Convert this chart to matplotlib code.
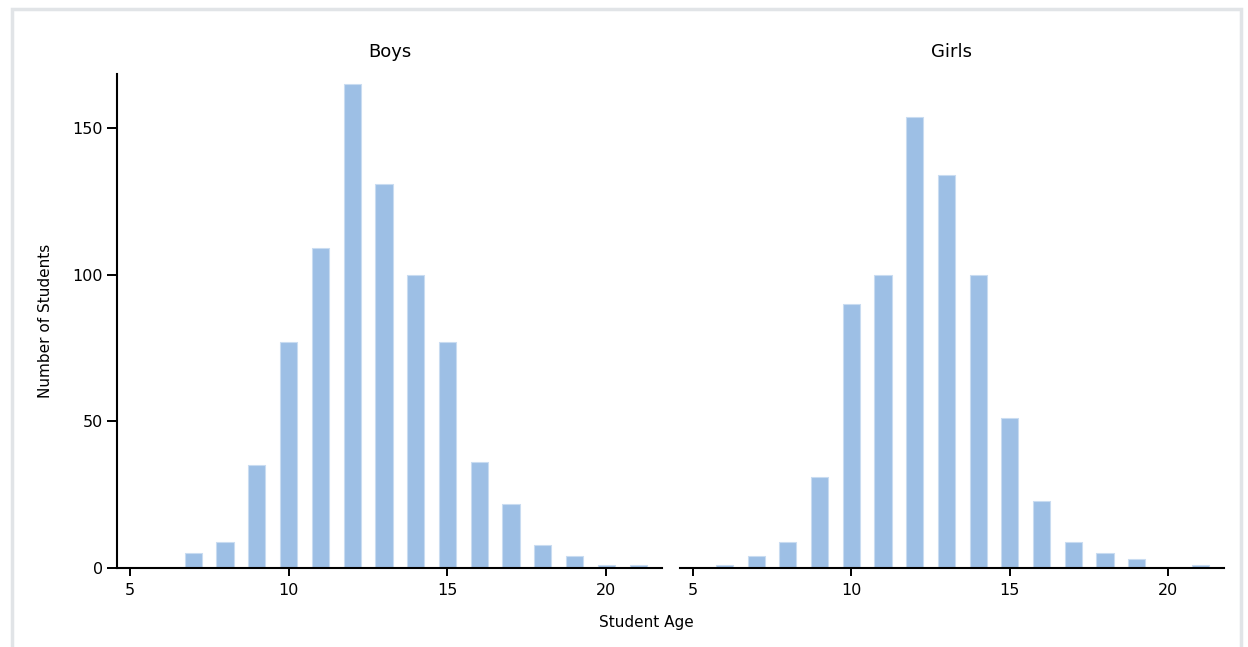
import numpy as np
from matplotlib import pyplot as plt
from matplotlib.patches import Rectangle

plt.rcParams["font.family"] = "DejaVu Sans"
plt.rcParams["font.size"] = 12


#  ------------------------------------------  data  -------------------------------------------  #

ages  = [5, 6, 7, 8, 9, 10, 11, 12, 13, 14, 15, 16, 17, 18, 19, 20, 21]
boys  = [0, 0, 5, 9, 35, 77, 109, 165, 131, 100, 77, 36, 22, 8, 4, 1, 1]
girls = [0, 1, 4, 9, 31, 90, 100, 154, 134, 100, 51, 23, 9, 5, 3, 0, 1]

panels = ["Boys", "Girls"]
x_ticks = [5, 10, 15, 20]
y_ticks = [0, 50, 100, 150]

bar_col = "#9dbfe5"
edge_col = "#c9dcf1"


#  ------------------------------------------  plot  -------------------------------------------  #

W, H = 1248, 647
fig = plt.figure(figsize=(W/100, H/100), dpi=100)

# light screenshot frame
fig.patches.append(Rectangle((12/W, -0.05), (1241-12)/W, 1.05 - 9/H, transform=fig.transFigure,
                             fill=False, edgecolor="#e1e4e7", linewidth=2.5))

ax1 = fig.add_axes([117/W, 1 - 568/H, 545/W, 494/H])
ax2 = fig.add_axes([680/W, 1 - 568/H, 544/W, 494/H], sharey=ax1)

for ax, name, counts in zip([ax1, ax2], panels, [boys, girls]):
    ax.bar(ages, counts, width=0.54, color=bar_col, edgecolor=edge_col, linewidth=0.8)

    ax.set_xlim(4.6, 21.75)
    ax.set_ylim(0, 168.5)
    ax.set_xticks(x_ticks)
    ax.set_title(name, fontsize=13, pad=12)

    for s in ["top", "right"]:
        ax.spines[s].set_visible(False)
    for s in ["left", "bottom"]:
        ax.spines[s].set_linewidth(1.5)
    ax.tick_params(axis="x", length=6, width=1.4, pad=5, labelsize=11.5)
    ax.tick_params(axis="y", length=7, width=1.4, pad=3, labelsize=11.5)

ax1.set_yticks(y_ticks)
ax2.spines["left"].set_visible(False)
ax2.tick_params(axis="y", left=False, labelleft=False)

ax1.set_ylabel("Number of Students", fontsize=11, labelpad=14)
fig.text(646/W, 1 - 622/H, "Student Age", ha="center", va="center", fontsize=11)

fig.savefig("out.png", dpi=100)
